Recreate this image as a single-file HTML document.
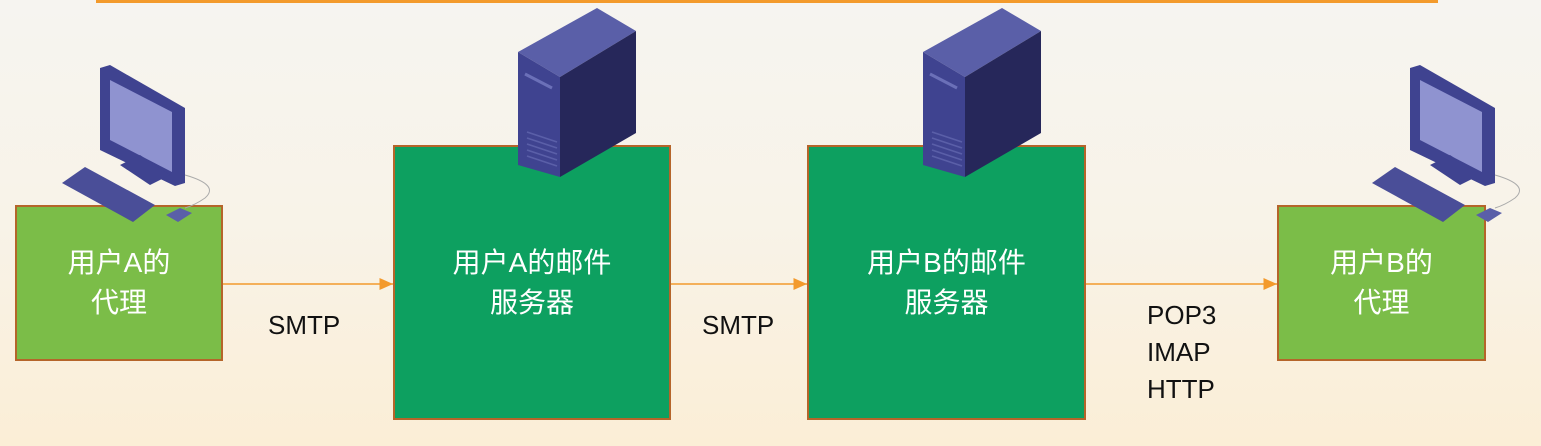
<!DOCTYPE html>
<html><head><meta charset="utf-8"><style>
body{margin:0;width:1541px;height:446px;overflow:hidden;background:linear-gradient(180deg,#f6f4f0 0%,#f8f3e8 50%,#fbeed6 100%);font-family:"Liberation Sans","Noto Sans CJK SC",sans-serif;position:relative}
.b{position:absolute;border:2px solid #b5652a;box-sizing:border-box;color:#fff;font-size:28px;display:flex;align-items:center;justify-content:center;text-align:center;line-height:40px}
.g1{background:#7bbd48}.g2{background:#0da060}
.l{position:absolute;font-size:26px;color:#111;line-height:37px}
</style></head><body>
<div style="position:absolute;left:96px;top:0;width:1342px;height:3px;background:#f39a2c"></div>
<div class="b g1" style="left:15px;top:205px;width:208px;height:156px">用户A的<br>代理</div>
<div class="b g2" style="left:393px;top:145px;width:278px;height:275px">用户A的邮件<br>服务器</div>
<div class="b g2" style="left:807px;top:145px;width:279px;height:275px">用户B的邮件<br>服务器</div>
<div class="b g1" style="left:1277px;top:205px;width:209px;height:156px">用户B的<br>代理</div>
<svg width="1541" height="446" style="position:absolute;left:0;top:0">
<defs>
<marker id="a" markerWidth="10" markerHeight="10" refX="9" refY="5" orient="auto"><path d="M0,1 L9,5 L0,9 z" fill="#f39a2c"/></marker>
<g id="srv">
<polygon points="518,52 597,8 636,31 560,77" fill="#5a5fa8"/>
<polygon points="560,77 636,31 636,133 560,177" fill="#26275a"/>
<polygon points="518,52 560,77 560,177 518,165" fill="#3f4390"/>
<line x1="525" y1="74" x2="552" y2="88" stroke="#6b70b8" stroke-width="3"/>
<g stroke="#5a5fa8" stroke-width="1.5"><line x1="527" y1="132" x2="557" y2="142"/><line x1="527" y1="138" x2="557" y2="148"/><line x1="527" y1="144" x2="557" y2="154"/><line x1="527" y1="150" x2="557" y2="160"/><line x1="527" y1="156" x2="557" y2="166"/></g>
</g>
<g id="pc">
<polygon points="100,68 110,65 185,108 185,183 175,186 100,150" fill="#3f4390"/>
<polygon points="110,80 172,112 172,172 110,140" fill="#8f93d0"/>
<polygon points="120,165 140,155 170,175 150,185" fill="#3f4390"/>
<polygon points="62,183 85,167 155,205 133,222" fill="#4a4e98"/>
<polygon points="166,215 180,208 192,213 178,222" fill="#5a5fa8"/>
<path d="M185,175 Q220,185 205,198 Q195,205 185,208" fill="none" stroke="#aaa" stroke-width="1"/>
</g>
</defs>
<use href="#srv"/>
<use href="#srv" x="405"/>
<use href="#pc"/>
<use href="#pc" x="1310"/>
<g stroke="#f39a2c" stroke-width="1.5" marker-end="url(#a)">
<line x1="223" y1="284" x2="393" y2="284"/>
<line x1="671" y1="284" x2="807" y2="284"/>
<line x1="1086" y1="284" x2="1277" y2="284"/>
</g>
</svg>
<div class="l" style="left:268px;top:307px">SMTP</div>
<div class="l" style="left:702px;top:307px">SMTP</div>
<div class="l" style="left:1147px;top:297px">POP3<br>IMAP<br>HTTP</div>
</body></html>
